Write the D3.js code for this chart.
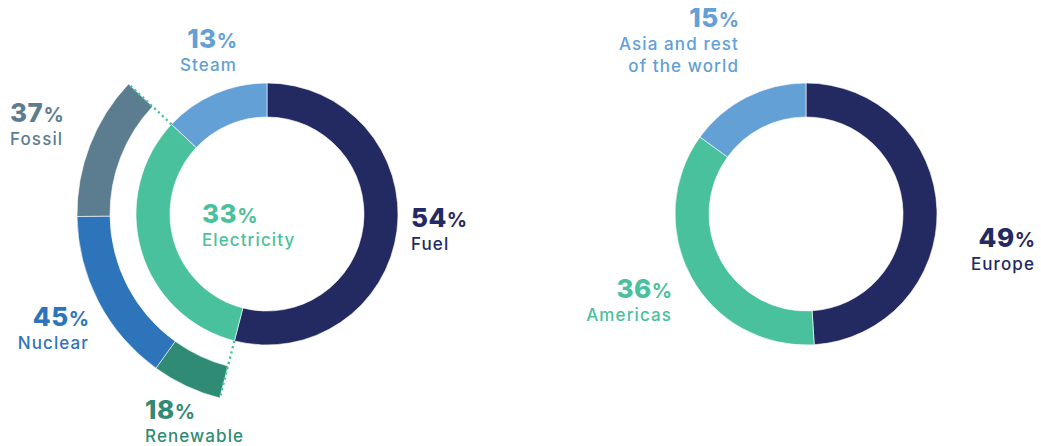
<!DOCTYPE html>
<html>
<head>
<meta charset="utf-8">
<script src="https://cdn.jsdelivr.net/npm/d3@7"></script>
<style>
  html, body { margin: 0; padding: 0; background: #fff; }
  svg { display: block; }
  text { font-family: Inter, "Noto Sans", sans-serif; }
</style>
</head>
<body>
<svg id="chart" width="1041" height="446"></svg>
<script>
// Energy consumption by type
const energyTypes = ["Fuel", "Electricity", "Steam"];
const energyShares = [54, 33, 13];

// Breakdown of the electricity share by source
const electricitySources = ["Renewable", "Nuclear", "Fossil"];
const electricityShares = [18, 45, 37];

// Split by region
const regions = ["Europe", "Americas", "Asia and rest|of the world"];
const regionShares = [49, 36, 15];

const colors = {
  Fuel: "#232A62",
  Electricity: "#49C19D",
  Steam: "#62A0D6",
  Fossil: "#5C7D90",
  Nuclear: "#2E74BA",
  Renewable: "#2F8B74",
  Europe: "#232A62",
  Americas: "#49C19D",
  "Asia and rest|of the world": "#62A0D6"
};

const svg = d3.select("#chart");
const TAU = 2 * Math.PI;

const ring = d3.arc().innerRadius(97).outerRadius(131);
const outerRing = d3.arc().innerRadius(157).outerRadius(190);

function pieOf(names, values, start, end) {
  const pie = d3.pie().sort(null).value(d => d.v).startAngle(start).endAngle(end);
  return pie(names.map((n, i) => ({ name: n, v: values[i] })));
}

// Left donut
const left = svg.append("g").attr("transform", "translate(267,214)");
const energyArcs = pieOf(energyTypes, energyShares, 0, TAU);
left.selectAll("path.main")
  .data(energyArcs)
  .join("path")
  .attr("class", "main")
  .attr("d", ring)
  .attr("fill", d => colors[d.data.name])
  .attr("stroke", "#fff")
  .attr("stroke-width", 0.6);

const elec = energyArcs.find(d => d.data.name === "Electricity");
const sourceArcs = pieOf(electricitySources, electricityShares, elec.startAngle, elec.endAngle);
left.selectAll("path.src")
  .data(sourceArcs)
  .join("path")
  .attr("class", "src")
  .attr("d", outerRing)
  .attr("fill", d => colors[d.data.name])
  .attr("stroke", "#fff")
  .attr("stroke-width", 0.6);

// Dotted connectors bounding the electricity breakdown
left.selectAll("line.conn")
  .data([elec.startAngle, elec.endAngle])
  .join("line")
  .attr("class", "conn")
  .attr("x1", a => 131 * Math.sin(a))
  .attr("y1", a => -131 * Math.cos(a))
  .attr("x2", a => 190 * Math.sin(a))
  .attr("y2", a => -190 * Math.cos(a))
  .attr("stroke", colors.Electricity)
  .attr("stroke-width", 2.4)
  .attr("stroke-dasharray", "2.2,3.2");

// Right donut
const right = svg.append("g").attr("transform", "translate(806,214)");
right.selectAll("path")
  .data(pieOf(regions, regionShares, 0, TAU))
  .join("path")
  .attr("d", ring)
  .attr("fill", d => colors[d.data.name])
  .attr("stroke", "#fff")
  .attr("stroke-width", 0.6);

// Labels: big percentage with a smaller % sign, then the name
const labels = [
  { name: "Steam", value: 13, x: 237, y: 48, anchor: "end" },
  { name: "Fossil", value: 37, x: 10, y: 122, anchor: "start" },
  { name: "Electricity", value: 33, x: 202, y: 223, anchor: "start" },
  { name: "Fuel", value: 54, x: 411, y: 227, anchor: "start" },
  { name: "Nuclear", value: 45, x: 89, y: 326, anchor: "end" },
  { name: "Renewable", value: 18, x: 145, y: 419, anchor: "start" },
  { name: "Asia and rest|of the world", value: 15, x: 739, y: 27, anchor: "end" },
  { name: "Europe", value: 49, x: 1035, y: 247, anchor: "end" },
  { name: "Americas", value: 36, x: 672, y: 298, anchor: "end" }
];

const lg = svg.append("g");
labels.forEach(l => {
  const g = lg.append("g").attr("fill", colors[l.name]);
  const pct = g.append("text")
    .attr("x", l.x).attr("y", l.y)
    .attr("text-anchor", l.anchor)
    .attr("font-weight", 800);
  pct.append("tspan").attr("font-size", 26).attr("letter-spacing", "0.5px").text(l.value);
  pct.append("tspan").attr("font-size", 20).attr("font-weight", 700).text("%");
  l.name.split("|").forEach((line, i) => {
    g.append("text")
      .attr("x", l.x).attr("y", l.y + 23 + i * 22)
      .attr("text-anchor", l.anchor)
      .attr("font-size", 17)
      .attr("font-weight", 500)
      .attr("letter-spacing", "1.1px")
      .text(line);
  });
});
</script>
</body>
</html>
